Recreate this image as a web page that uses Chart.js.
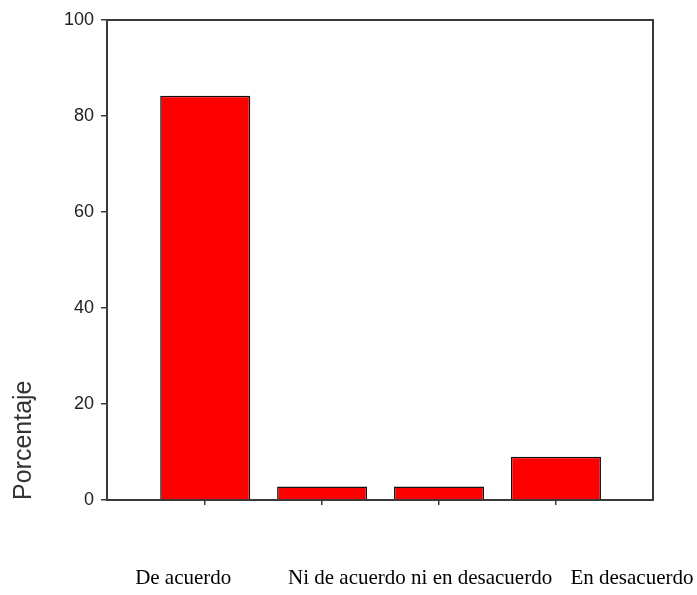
<!DOCTYPE html>
<html lang="es">
<head>
  <meta charset="UTF-8">
  <title>Porcentaje</title>
  <script src="https://cdn.jsdelivr.net/npm/chart.js"></script>
  <style>
    body {
      margin: 0;
      background: #fff;
    }
    #chart {
      display: block;
    }
  </style>
</head>
<body>
  <canvas id="chart" width="697" height="595"></canvas>

  <script>
    // Chart data
    const categories = ['De acuerdo', 'Ni de acuerdo ni en desacuerdo', 'En desacuerdo']
    const barPositions = [1, 2, 3, 4]
    const percentages = [84.2, 2.8, 2.8, 9.0]
    const yTicks = [0, 20, 40, 60, 80, 100]

    // Where the three category texts sit along the x scale (layout only)
    const labelCenters = [0.812, 2.838, 4.65]

    const lineColor = '#3a3a3a'

    // Draws the box around the plot area
    const frame = {
      id: 'frame',
      afterDraw(chart) {
        const { ctx, chartArea: a } = chart
        ctx.save()
        ctx.strokeStyle = lineColor
        ctx.lineWidth = 2
        ctx.strokeRect(a.left, a.top, a.right - a.left, a.bottom - a.top)
        ctx.restore()
      }
    }

    new Chart(document.getElementById('chart'), {
      type: 'bar',
      data: {
        datasets: [{
          data: barPositions.map((x, i) => ({ x, y: percentages[i] })),
          backgroundColor: '#ff0000',
          borderColor: '#111',
          borderWidth: 1.5,
          barPercentage: 0.77,
          categoryPercentage: 1
        }]
      },
      options: {
        responsive: false,
        animation: false,
        layout: {
          padding: { top: 20, right: 44, bottom: 0, left: 0 }
        },
        plugins: {
          legend: { display: false },
          tooltip: { enabled: false }
        },
        scales: {
          x: {
            type: 'linear',
            position: 'bottom',
            offset: false,
            min: 0.16,
            max: 4.83,
            afterBuildTicks: s => { s.ticks = barPositions.map(v => ({ value: v })) },
            afterFit: s => { s.height = 10; s.paddingLeft = 0; s.paddingRight = 0 },
            ticks: { display: false },
            grid: { offset: false, drawOnChartArea: false, tickLength: 5, color: lineColor, lineWidth: 1.5 },
            border: { display: false }
          },
          y: {
            min: 0,
            max: 100,
            afterBuildTicks: s => { s.ticks = yTicks.map(v => ({ value: v })) },
            afterFit: s => { s.width = 107 },
            ticks: {
              color: '#222',
              padding: 7,
              font: { family: '"Liberation Sans", Arial, sans-serif', size: 18 }
            },
            grid: { drawOnChartArea: false, tickLength: 6, color: lineColor, lineWidth: 1.5 },
            border: { display: false },
            title: {
              display: true,
              text: 'Porcentaje',
              align: 'start',
              color: '#333',
              padding: { top: 9, bottom: 0 },
              font: { family: '"Liberation Sans", Arial, sans-serif', size: 25 }
            }
          },
          x2: {
            type: 'linear',
            position: 'bottom',
            offset: false,
            min: 0.16,
            max: 4.83,
            afterBuildTicks: s => { s.ticks = labelCenters.map(v => ({ value: v })) },
            afterFit: s => { s.height = 85; s.paddingLeft = 0; s.paddingRight = 0 },
            ticks: {
              autoSkip: false,
              maxRotation: 0,
              padding: 56,
              color: '#000',
              font: { family: '"Liberation Serif", "Times New Roman", serif', size: 21 },
              callback: (v, i) => categories[i]
            },
            grid: { display: false, drawTicks: false, offset: false },
            border: { display: false }
          }
        }
      },
      plugins: [frame]
    })
  </script>
</body>
</html>
